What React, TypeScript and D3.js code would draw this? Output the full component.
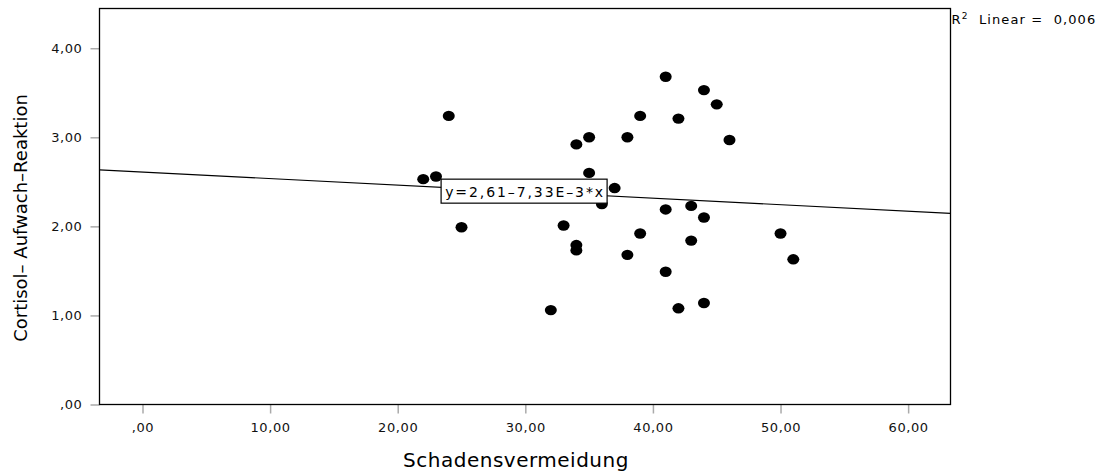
import React, { useRef, useEffect } from "react";
import * as d3 from "d3";

// Schadensvermeidung (x) vs. Cortisol-Aufwach-Reaktion (y)
const schadensvermeidung = [
  22, 23, 24, 25, 32, 33, 34, 34, 34, 35, 35, 36, 37, 38, 38,
  39, 39, 41, 41, 41, 42, 42, 43, 43, 44, 44, 44, 45, 46, 50, 51,
];
const cortisol = [
  2.53, 2.56, 3.24, 1.99, 1.06, 2.01, 2.92, 1.79, 1.73, 3.0, 2.6, 2.25, 2.43, 3.0, 1.68,
  3.24, 1.92, 3.68, 2.19, 1.49, 3.21, 1.08, 2.23, 1.84, 3.53, 2.1, 1.14, 3.37, 2.97, 1.92, 1.63,
];
const xTicks = [0, 10, 20, 30, 40, 50, 60];
const yTicks = [0, 1, 2, 3, 4];
const intercept = 2.61;
const slope = -7.33e-3;

const fmt = (v: number) => (v === 0 ? ",00" : v.toFixed(2).replace(".", ","));

const App = () => {
  const ref = useRef<SVGSVGElement | null>(null);

  useEffect(() => {
    const W = 1098;
    const H = 476;
    const m = { left: 99.5, right: 950.5, top: 8.5, bottom: 404.5 };
    const svg = d3.select(ref.current).attr("width", W).attr("height", H);
    svg.selectAll("*").remove();

    const x = d3.scaleLinear().domain([-3.37, 63.32]).range([m.left, m.right]);
    const y = d3.scaleLinear().domain([0, 4.446]).range([m.bottom, m.top]);

    svg.append("rect").attr("width", W).attr("height", H).attr("fill", "#fff");

    const font = "'DejaVu Sans', Verdana, sans-serif";

    // y axis
    const ya = svg
      .append("g")
      .attr("transform", `translate(${m.left},0)`)
      .call(d3.axisLeft(y).tickValues(yTicks).tickFormat((d) => fmt(+d)).tickSize(9).tickPadding(8));
    ya.select(".domain").remove();
    ya.selectAll("line").attr("stroke", "#aaa").attr("stroke-width", 1.5);
    ya.selectAll("text")
      .attr("font-family", font)
      .attr("font-size", 13)
      .attr("letter-spacing", 0.6)
      .attr("fill", "#111");

    // x axis
    const xa = svg
      .append("g")
      .attr("transform", `translate(0,${m.bottom})`)
      .call(d3.axisBottom(x).tickValues(xTicks).tickFormat((d) => fmt(+d)).tickSize(9).tickPadding(9));
    xa.select(".domain").remove();
    xa.selectAll("line").attr("stroke", "#aaa").attr("stroke-width", 1.5);
    xa.selectAll("text")
      .attr("font-family", font)
      .attr("font-size", 13)
      .attr("letter-spacing", 0.6)
      .attr("fill", "#111");

    // frame
    svg
      .append("rect")
      .attr("x", m.left)
      .attr("y", m.top)
      .attr("width", m.right - m.left)
      .attr("height", m.bottom - m.top)
      .attr("fill", "none")
      .attr("stroke", "#000")
      .attr("stroke-width", 1.3);

    // points
    const pts = schadensvermeidung.map((v, i) => ({ x: v, y: cortisol[i] }));
    svg
      .append("g")
      .selectAll("ellipse")
      .data(pts)
      .enter()
      .append("ellipse")
      .attr("cx", (d) => x(d.x))
      .attr("cy", (d) => y(d.y))
      .attr("rx", 6)
      .attr("ry", 5.2)
      .attr("fill", "#000");

    // regression line
    const [x0, x1] = x.domain();
    svg
      .append("line")
      .attr("x1", x(x0))
      .attr("y1", y(intercept + slope * x0))
      .attr("x2", x(x1))
      .attr("y2", y(intercept + slope * x1))
      .attr("stroke", "#000")
      .attr("stroke-width", 1.2);

    // equation label
    const lx = x(23.4);
    const ly = y(2.53);
    svg
      .append("rect")
      .attr("x", lx)
      .attr("y", ly)
      .attr("width", 166)
      .attr("height", 24)
      .attr("fill", "#fff")
      .attr("stroke", "#000")
      .attr("stroke-width", 1.2);
    svg
      .append("text")
      .attr("x", lx + 84)
      .attr("y", ly + 17.5)
      .attr("text-anchor", "middle")
      .attr("font-family", font)
      .attr("font-size", 14)
      .attr("letter-spacing", 1.9)
      .text("y=2,61\u20137,33E\u20133*x");

    // R² label
    const r2 = svg
      .append("text")
      .attr("x", m.right + 1)
      .attr("y", 24)
      .attr("font-family", font)
      .attr("font-size", 13)
      .attr("letter-spacing", 1.1)
      .style("white-space", "pre")
      .attr("fill", "#000");
    r2.append("tspan").text("R");
    r2.append("tspan").attr("font-size", 9).attr("dy", -5).text("2");
    r2.append("tspan").attr("dy", 5).text("  Linear =  0,006");

    // axis titles
    svg
      .append("text")
      .attr("x", 516)
      .attr("y", 467)
      .attr("text-anchor", "middle")
      .attr("font-family", font)
      .attr("font-size", 20)
      .attr("letter-spacing", 0.5)
      .text("Schadensvermeidung");
    svg
      .append("text")
      .attr("transform", `translate(27,218) rotate(-90)`)
      .attr("text-anchor", "middle")
      .attr("font-family", font)
      .attr("font-size", 18)
      .text("Cortisol\u2013 Aufwach\u2013Reaktion");
  }, []);

  return (
    <div style={{ position: "absolute", left: 0, top: 0 }}>
      <svg ref={ref}></svg>
    </div>
  );
};

export default App;
